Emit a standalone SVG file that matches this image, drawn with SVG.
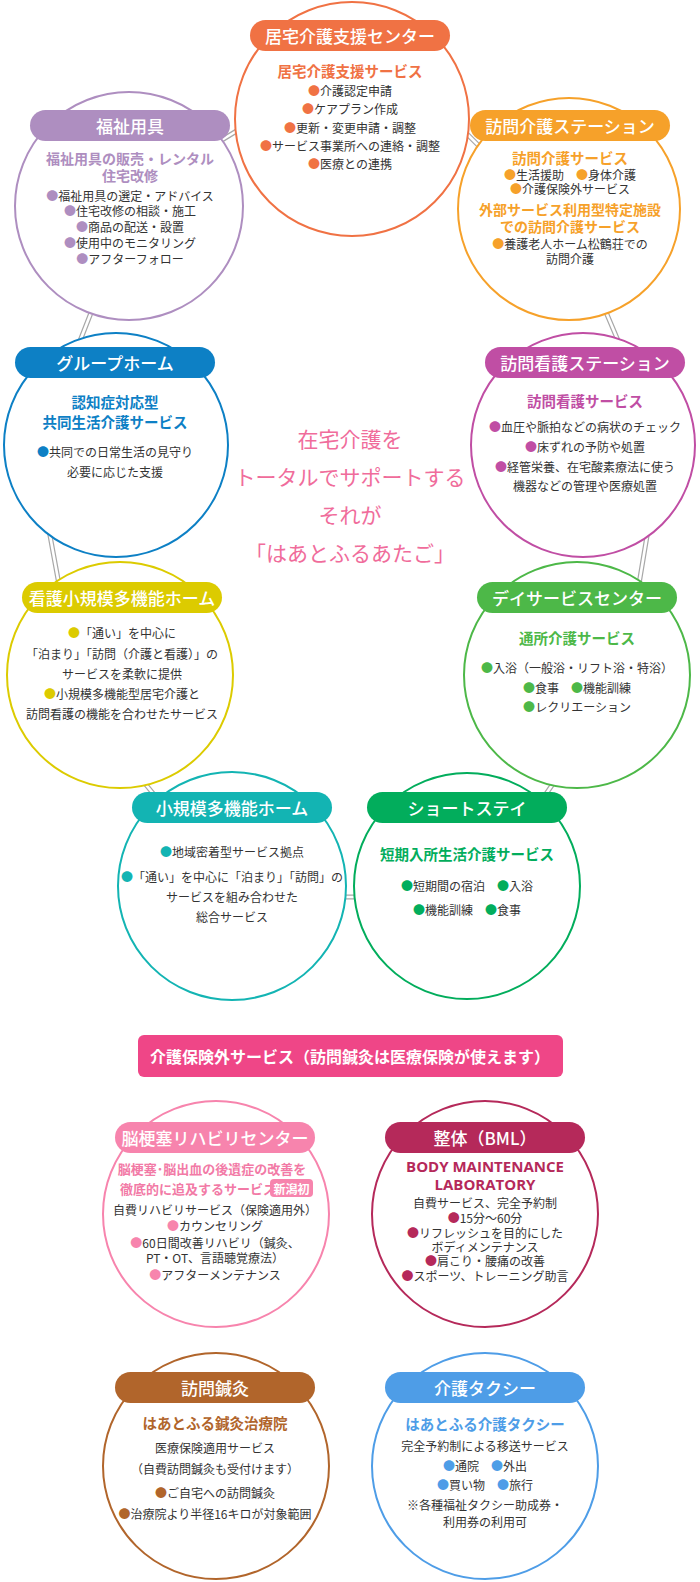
<svg xmlns="http://www.w3.org/2000/svg" width="700" height="1582" viewBox="0 0 700 1582">
<style>
text{font-family:"Noto Sans CJK JP","Noto Sans",sans-serif;dominant-baseline:central;text-anchor:middle}
.c{fill:#fff;stroke-width:2}
.ttl{font-size:17px;font-weight:500;fill:#fff}
.sub{font-size:14.5px;font-weight:700}
.sub2{font-size:14px;font-weight:700}
.it{font-size:12px;fill:#333}
.ctr{font-size:21px;fill:#f06c9b;font-weight:400}
.cn-o{fill:none;stroke:#a8a8a8;stroke-width:5}
.cn-i{fill:none;stroke:#fff;stroke-width:2.6}
#kyotaku .c{stroke:#f07244}#kyotaku rect,#kyotaku .b{fill:#f07244}#kyotaku .sub{fill:#f07244}
#fukushi .c{stroke:#ae8ec0}#fukushi rect,#fukushi .b{fill:#ae8ec0}#fukushi .sub2{fill:#ae8ec0}
#houmonkaigo .c{stroke:#f6a12a}#houmonkaigo rect,#houmonkaigo .b{fill:#f6a12a}#houmonkaigo .sub,#houmonkaigo .sub2{fill:#f6a12a}
#group .c{stroke:#0d80c5}#group rect,#group .b{fill:#0d80c5}#group .sub{fill:#0d80c5}
#kango .c{stroke:#c04ea4}#kango rect,#kango .b{fill:#c04ea4}#kango .sub{fill:#c04ea4}
#kantaki .c{stroke:#dccb00}#kantaki rect,#kantaki .b{fill:#dccb00}
#day .c{stroke:#4db848}#day rect,#day .b{fill:#4db848}#day .sub{fill:#4db848}
#shoki .c{stroke:#13b4b3}#shoki rect,#shoki .b{fill:#13b4b3}
#short .c{stroke:#02ad5c}#short rect,#short .b{fill:#02ad5c}#short .sub{fill:#02ad5c}
#rehab .c{stroke:#f784ad}#rehab rect,#rehab .b{fill:#f784ad}#rehab .sub{fill:#f27aa6}
#seitai .c{stroke:#b5295a}#seitai rect,#seitai .b{fill:#b5295a}#seitai .sub{fill:#b5295a}
#shinkyu .c{stroke:#b1652b}#shinkyu rect,#shinkyu .b{fill:#b1652b}#shinkyu .sub{fill:#b1652b}
#taxi .c{stroke:#4e9de7}#taxi rect,#taxi .b{fill:#4e9de7}#taxi .sub{fill:#4e9de7}
</style>
<defs>
<path id="cp" d="M212,146L248,124M455,122L483,150M96,300L78,346M603,305L622,350M49,530L60,590M648,530L638,590M138,775L165,808M559,775L535,810M335,897L365,897"/>
</defs>
<rect width="700" height="1582" fill="#fff"/>
<g id="connectors">
<use href="#cp" class="cn-o"/>
<use href="#cp" class="cn-i"/>
</g>

<g id="kyotaku">
<circle class="c" cx="352" cy="119" r="117"/>
<rect x="250" y="20" width="200" height="31" rx="15.5"/>
<text class="ttl" x="350" y="35.5">居宅介護支援センター</text>
<text class="sub" x="350" y="70">居宅介護支援サービス</text>
<text class="it" x="350" y="90"><tspan class="b">●</tspan>介護認定申請</text>
<text class="it" x="350" y="108"><tspan class="b">●</tspan>ケアプラン作成</text>
<text class="it" x="350" y="127"><tspan class="b">●</tspan>更新・変更申請・調整</text>
<text class="it" x="350" y="145"><tspan class="b">●</tspan>サービス事業所への連絡・調整</text>
<text class="it" x="350" y="163"><tspan class="b">●</tspan>医療との連携</text>
</g>

<g id="fukushi">
<circle class="c" cx="129" cy="206" r="114"/>
<rect x="30" y="110" width="200" height="31" rx="15.5"/>
<text class="ttl" x="130" y="125.5">福祉用具</text>
<text class="sub2" x="130" y="158">福祉用具の販売・レンタル</text>
<text class="sub2" x="130" y="175">住宅改修</text>
<text class="it" x="130" y="195"><tspan class="b">●</tspan>福祉用具の選定・アドバイス</text>
<text class="it" x="130" y="210"><tspan class="b">●</tspan>住宅改修の相談・施工</text>
<text class="it" x="130" y="226"><tspan class="b">●</tspan>商品の配送・設置</text>
<text class="it" x="130" y="242"><tspan class="b">●</tspan>使用中のモニタリング</text>
<text class="it" x="130" y="258"><tspan class="b">●</tspan>アフターフォロー</text>
</g>

<g id="houmonkaigo">
<circle class="c" cx="569" cy="209" r="111"/>
<rect x="470" y="110" width="200" height="31" rx="15.5"/>
<text class="ttl" x="570" y="125.5">訪問介護ステーション</text>
<text class="sub" x="570" y="157">訪問介護サービス</text>
<text class="it" x="570" y="174"><tspan class="b">●</tspan>生活援助　<tspan class="b">●</tspan>身体介護</text>
<text class="it" x="570" y="188"><tspan class="b">●</tspan>介護保険外サービス</text>
<text class="sub2" x="570" y="209">外部サービス利用型特定施設</text>
<text class="sub2" x="570" y="226">での訪問介護サービス</text>
<text class="it" x="570" y="243"><tspan class="b">●</tspan>養護老人ホーム松鶴荘での</text>
<text class="it" x="570" y="258">訪問介護</text>
</g>

<g id="group">
<circle class="c" cx="116" cy="445" r="112"/>
<rect x="15" y="347" width="200" height="31" rx="15.5"/>
<text class="ttl" x="115" y="362.5">グループホーム</text>
<text class="sub" x="115" y="401">認知症対応型</text>
<text class="sub" x="115" y="421">共同生活介護サービス</text>
<text class="it" x="115" y="451"><tspan class="b">●</tspan>共同での日常生活の見守り</text>
<text class="it" x="115" y="471">必要に応じた支援</text>
</g>

<g id="kango">
<circle class="c" cx="583" cy="445" r="112"/>
<rect x="485" y="347" width="200" height="31" rx="15.5"/>
<text class="ttl" x="585" y="362.5">訪問看護ステーション</text>
<text class="sub" x="585" y="400">訪問看護サービス</text>
<text class="it" x="585" y="426"><tspan class="b">●</tspan>血圧や脈拍などの病状のチェック</text>
<text class="it" x="585" y="446"><tspan class="b">●</tspan>床ずれの予防や処置</text>
<text class="it" x="585" y="466"><tspan class="b">●</tspan>経管栄養、在宅酸素療法に使う</text>
<text class="it" x="585" y="485">機器などの管理や医療処置</text>
</g>

<g id="center-message">
<text class="ctr" x="350" y="438">在宅介護を</text>
<text class="ctr" x="350" y="476">トータルでサポートする</text>
<text class="ctr" x="350" y="514">それが</text>
<text class="ctr" x="350" y="552">「はあとふるあたご」</text>
</g>

<g id="kantaki">
<circle class="c" cx="120" cy="675" r="113"/>
<rect x="22" y="582" width="200" height="31" rx="15.5"/>
<text class="ttl" x="122" y="597.5">看護小規模多機能ホーム</text>
<text class="it" x="122" y="632"><tspan class="b">●</tspan>「通い」を中心に</text>
<text class="it" x="122" y="653">「泊まり」「訪問（介護と看護）」の</text>
<text class="it" x="122" y="673">サービスを柔軟に提供</text>
<text class="it" x="122" y="693"><tspan class="b">●</tspan>小規模多機能型居宅介護と</text>
<text class="it" x="122" y="713">訪問看護の機能を合わせたサービス</text>
</g>

<g id="day">
<circle class="c" cx="577" cy="675" r="113"/>
<rect x="477" y="582" width="200" height="31" rx="15.5"/>
<text class="ttl" x="577" y="597.5">デイサービスセンター</text>
<text class="sub" x="577" y="637">通所介護サービス</text>
<text class="it" x="577" y="667"><tspan class="b">●</tspan>入浴（一般浴・リフト浴・特浴）</text>
<text class="it" x="577" y="687"><tspan class="b">●</tspan>食事　<tspan class="b">●</tspan>機能訓練</text>
<text class="it" x="577" y="706"><tspan class="b">●</tspan>レクリエーション</text>
</g>

<g id="shoki">
<circle class="c" cx="232" cy="886" r="114"/>
<rect x="132" y="792" width="200" height="31" rx="15.5"/>
<text class="ttl" x="232" y="807.5">小規模多機能ホーム</text>
<text class="it" x="232" y="851"><tspan class="b">●</tspan>地域密着型サービス拠点</text>
<text class="it" x="232" y="876"><tspan class="b">●</tspan>「通い」を中心に「泊まり」「訪問」の</text>
<text class="it" x="232" y="896">サービスを組み合わせた</text>
<text class="it" x="232" y="916">総合サービス</text>
</g>

<g id="short">
<circle class="c" cx="467" cy="886" r="113"/>
<rect x="367" y="792" width="200" height="31" rx="15.5"/>
<text class="ttl" x="467" y="807.5">ショートステイ</text>
<text class="sub" x="467" y="853">短期入所生活介護サービス</text>
<text class="it" x="467" y="885"><tspan class="b">●</tspan>短期間の宿泊　<tspan class="b">●</tspan>入浴</text>
<text class="it" x="467" y="909"><tspan class="b">●</tspan>機能訓練　<tspan class="b">●</tspan>食事</text>
</g>

<g id="banner">
<rect x="138" y="1035" width="425" height="42" rx="6" fill="#ef4687"/>
<text x="350" y="1056" style="font-size:16px;font-weight:700;fill:#fff">介護保険外サービス（訪問鍼灸は医療保険が使えます）</text>
</g>

<g id="rehab">
<circle class="c" cx="216" cy="1214" r="113"/>
<rect x="115" y="1122" width="200" height="31" rx="15.5"/>
<text class="ttl" x="215" y="1137.5">脳梗塞リハビリセンター</text>
<text class="sub" x="212" y="1168" style="font-size:13px">脳梗塞･脳出血の後遺症の改善を</text>
<text class="sub" x="120" y="1188" style="font-size:13px;text-anchor:start">徹底的に追及するサービス</text>
<rect x="270" y="1179" width="43" height="18" rx="4"/>
<text x="291.5" y="1188" style="font-size:12px;font-weight:700;fill:#fff">新潟初</text>
<text class="it" x="215" y="1209">自費リハビリサービス（保険適用外）</text>
<text class="it" x="215" y="1225"><tspan class="b">●</tspan>カウンセリング</text>
<text class="it" x="215" y="1242"><tspan class="b">●</tspan>60日間改善リハビリ（鍼灸、</text>
<text class="it" x="215" y="1257">PT・OT、言語聴覚療法）</text>
<text class="it" x="215" y="1274"><tspan class="b">●</tspan>アフターメンテナンス</text>
</g>

<g id="seitai">
<circle class="c" cx="485" cy="1214" r="113"/>
<rect x="385" y="1122" width="200" height="31" rx="15.5"/>
<text class="ttl" x="485" y="1137.5">整体（BML）</text>
<text class="sub" x="485" y="1166" style="font-family:'Open Sans',sans-serif;font-size:15px">BODY MAINTENANCE</text>
<text class="sub" x="485" y="1184" style="font-family:'Open Sans',sans-serif;font-size:15px">LABORATORY</text>
<text class="it" x="485" y="1202">自費サービス、完全予約制</text>
<text class="it" x="485" y="1217"><tspan class="b">●</tspan>15分〜60分</text>
<text class="it" x="485" y="1232"><tspan class="b">●</tspan>リフレッシュを目的にした</text>
<text class="it" x="485" y="1246">ボディメンテナンス</text>
<text class="it" x="485" y="1260"><tspan class="b">●</tspan>肩こり・腰痛の改善</text>
<text class="it" x="485" y="1275"><tspan class="b">●</tspan>スポーツ、トレーニング助言</text>
</g>

<g id="shinkyu">
<circle class="c" cx="216" cy="1466" r="113"/>
<rect x="115" y="1372" width="200" height="31" rx="15.5"/>
<text class="ttl" x="215" y="1387.5">訪問鍼灸</text>
<text class="sub" x="215" y="1422">はあとふる鍼灸治療院</text>
<text class="it" x="215" y="1447">医療保険適用サービス</text>
<text class="it" x="215" y="1468">（自費訪問鍼灸も受付けます）</text>
<text class="it" x="215" y="1492"><tspan class="b">●</tspan>ご自宅への訪問鍼灸</text>
<text class="it" x="215" y="1513"><tspan class="b">●</tspan>治療院より半径16キロが対象範囲</text>
</g>

<g id="taxi">
<circle class="c" cx="485" cy="1466" r="113"/>
<rect x="385" y="1372" width="200" height="31" rx="15.5"/>
<text class="ttl" x="485" y="1387.5">介護タクシー</text>
<text class="sub" x="485" y="1423">はあとふる介護タクシー</text>
<text class="it" x="485" y="1445">完全予約制による移送サービス</text>
<text class="it" x="485" y="1465"><tspan class="b">●</tspan>通院　<tspan class="b">●</tspan>外出</text>
<text class="it" x="485" y="1484"><tspan class="b">●</tspan>買い物　<tspan class="b">●</tspan>旅行</text>
<text class="it" x="485" y="1504">※各種福祉タクシー助成券・</text>
<text class="it" x="485" y="1521">利用券の利用可</text>
</g>
</svg>
